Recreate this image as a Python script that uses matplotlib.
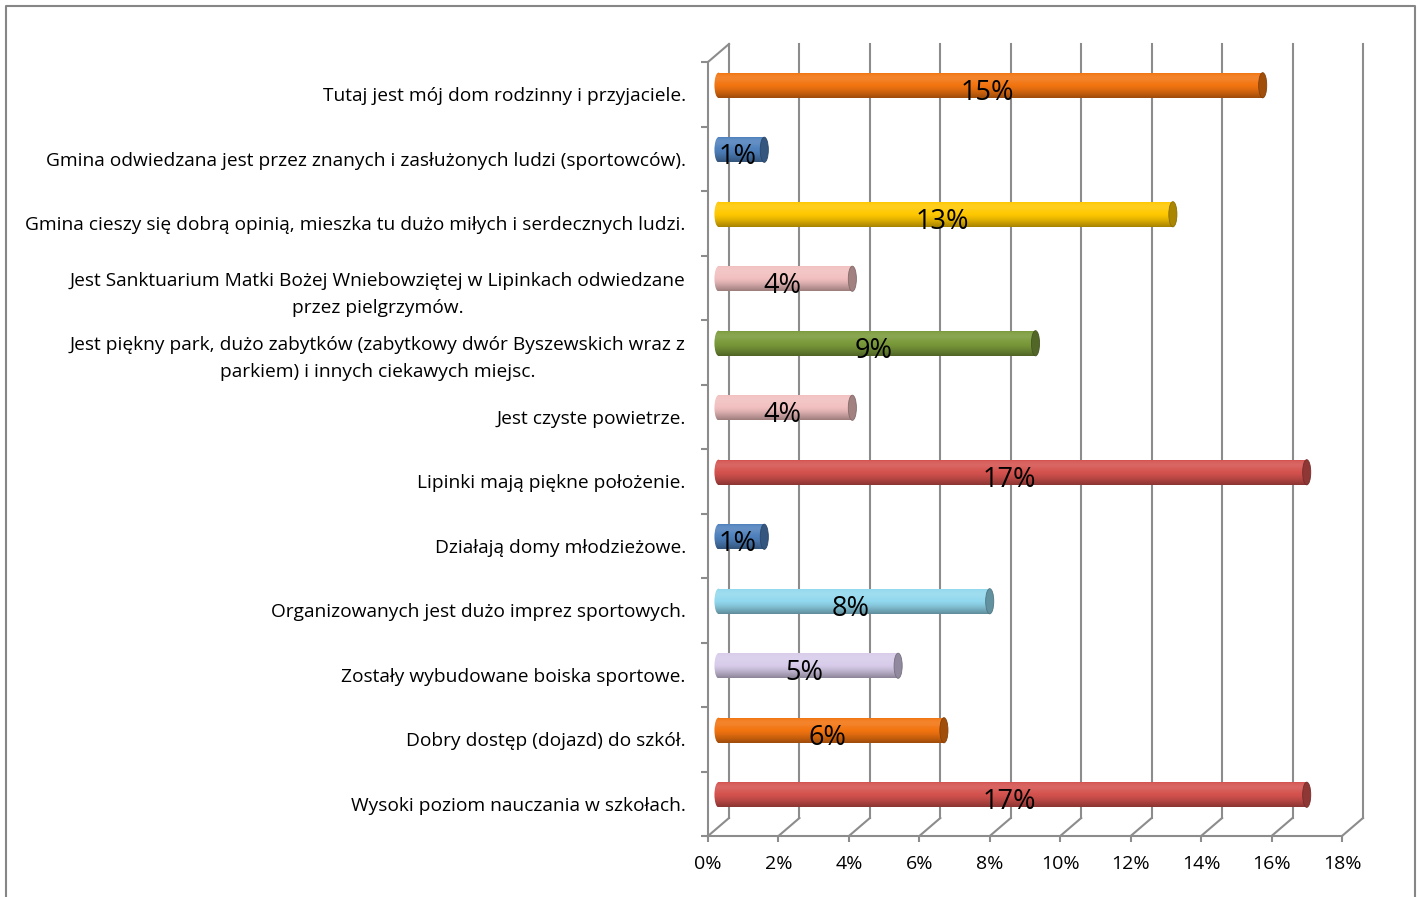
import matplotlib
matplotlib.use("Agg")
import matplotlib.pyplot as plt
import numpy as np
from matplotlib.patches import Ellipse
from matplotlib.lines import Line2D
from matplotlib.colors import to_rgb
from matplotlib.ticker import PercentFormatter, FixedLocator

plt.rcParams["font.family"] = ["Open Sans", "DejaVu Sans"]

# ---------------------------------------------------------------------------
# Data (top to bottom)
# ---------------------------------------------------------------------------
categories = [
    "Tutaj jest mój dom rodzinny i przyjaciele.",
    "Gmina odwiedzana jest przez znanych i zasłużonych ludzi (sportowców).",
    "Gmina cieszy się dobrą opinią, mieszka tu dużo miłych i serdecznych ludzi.",
    "Jest Sanktuarium Matki Bożej Wniebowziętej w Lipinkach odwiedzane\nprzez pielgrzymów.",
    "Jest piękny park, dużo zabytków (zabytkowy dwór Byszewskich wraz z\nparkiem) i innych ciekawych miejsc.",
    "Jest czyste powietrze.",
    "Lipinki mają piękne położenie.",
    "Działają domy młodzieżowe.",
    "Organizowanych jest dużo imprez sportowych.",
    "Zostały wybudowane boiska sportowe.",
    "Dobry dostęp (dojazd) do szkół.",
    "Wysoki poziom nauczania w szkołach.",
]
values = [15.45, 1.3, 12.9, 3.8, 9.0, 3.8, 16.7, 1.3, 7.7, 5.1, 6.4, 16.7]
bar_colors = [
    "#F27410", "#4F81BD", "#FFC800", "#F2C0C0", "#7A9A3A", "#F2C0C0",
    "#D4524E", "#4F81BD", "#92D8EE", "#D8CCEA", "#F27410", "#D4524E",
]
x_ticks = list(range(0, 19, 2))

# ---------------------------------------------------------------------------
# Geometry of the fake 3D box (depth offset in data units)
# ---------------------------------------------------------------------------
DX = 0.596   # % units
DY = 0.279   # category units
BAR_H = 0.39
CAP_W = 0.23
GRID = "#8C8C8C"

W, H = 1421, 897
fig = plt.figure(figsize=(W / 100, H / 100), dpi=100)

# outer frame
fig.add_artist(Line2D([6 / W, 6 / W, 1415 / W, 1415 / W], [0, 1 - 6 / H, 1 - 6 / H, 0],
                      transform=fig.transFigure, color="#868686", lw=1.5))

ax = fig.add_axes([708 / W, (H - 836) / H, 634 / W, 774 / H])
n = len(categories)
y = np.arange(n)
ax.set_xlim(0, 18)
ax.set_ylim(n - 0.5, -0.5)

for s in ["top", "right"]:
    ax.spines[s].set_visible(False)
for s in ["left", "bottom"]:
    ax.spines[s].set_color(GRID)
    ax.spines[s].set_linewidth(1.5)

ax.set_xticks(x_ticks)
ax.xaxis.set_major_formatter(PercentFormatter(decimals=0))
ax.tick_params(axis="x", length=4, width=1.5, color=GRID, pad=10, labelsize=14)

ax.set_yticks(y)
ax.set_yticklabels(categories)
ax.yaxis.set_minor_locator(FixedLocator(np.arange(n + 1) - 0.5))
ax.tick_params(axis="y", which="major", length=0, pad=16, labelsize=13.8)
ax.tick_params(axis="y", which="minor", length=5, width=1.5, color=GRID)
for t in ax.get_yticklabels():
    t.set_multialignment("center")
    t.set_linespacing(1.65)

# back wall gridlines + floor diagonals
top, bot = -0.5, n - 0.5
for xv in x_ticks:
    ax.plot([xv + DX, xv + DX], [top - DY, bot - DY], color=GRID, lw=1.5,
            clip_on=False, zorder=1)
    ax.plot([xv, xv + DX], [bot, bot - DY], color=GRID, lw=1.5, clip_on=False, zorder=1)
# left wall top edge
ax.plot([0, DX], [top, top - DY], color=GRID, lw=1.5, clip_on=False, zorder=1)


def shade(c, f):
    r = np.array(to_rgb(c))
    if f >= 0:
        return r + (1 - r) * f
    return r * (1 + f)


# cylinders (placed halfway in depth)
yc = y - DY / 2
left = DX / 2
bars = ax.barh(yc, values, left=left, height=BAR_H, color="none", zorder=3)
prof = np.array([-0.05, 0.08, 0.12, 0.10, 0.04, 0.0, -0.04, -0.1, -0.18, -0.26, -0.35])
for rect, v, c, yy in zip(bars, values, bar_colors, yc):
    grad = np.array([shade(c, f) for f in np.interp(np.linspace(0, 1, 60),
                                                     np.linspace(0, 1, len(prof)), prof)])
    img = grad[:, None, :]
    ext = (left - CAP_W, left + v, yy + BAR_H / 2, yy - BAR_H / 2)
    # left rounded end
    le = Ellipse((left, yy), CAP_W, BAR_H, facecolor="none", edgecolor="none")
    ax.add_patch(le)
    im = ax.imshow(img, extent=ext, origin="upper", aspect="auto", zorder=3,
                   interpolation="bilinear")
    im.set_clip_path(le)
    im2 = ax.imshow(img, extent=ext, origin="upper", aspect="auto", zorder=3,
                    interpolation="bilinear")
    im2.set_clip_path(rect)
    # right end cap
    ax.add_patch(Ellipse((left + v, yy), CAP_W, BAR_H, facecolor=shade(c, -0.33),
                         edgecolor=shade(c, -0.45), lw=0.6, zorder=4))
    ax.text(left + v / 2 - 0.1, yy + 0.12, f"{v / 100:.0%}", ha="center", va="center",
            fontsize=19.5, color="black", zorder=5)

ax.set_xlim(0, 18)
ax.set_ylim(n - 0.5, -0.5)

fig.savefig("out.png", dpi=100)
